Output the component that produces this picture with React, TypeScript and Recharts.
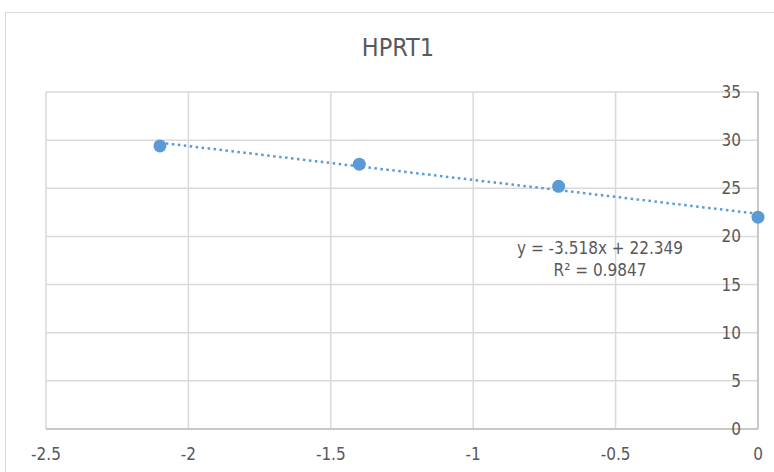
import React from "react";
import {
  ScatterChart,
  Scatter,
  XAxis,
  YAxis,
  CartesianGrid,
} from "recharts";

const pointX = [-2.1, -1.4, -0.7, 0];
const pointY = [29.4, 27.5, 25.2, 22.0];
const trendX = [-2.1, 0];
const trendY = [29.737, 22.349];
const xTicks = [-2.5, -2, -1.5, -1, -0.5, 0];
const yTicks = [0, 5, 10, 15, 20, 25, 30, 35];
const titleText = "HPRT1";
const equationText = "y = -3.518x + 22.349";
const r2Text = "R² = 0.9847";

const points = pointX.map((x, i) => ({ x, y: pointY[i] }));
const trend = trendX.map((x, i) => ({ x, y: trendY[i] }));

const FONT = "'Liberation Sans Narrow', 'DejaVu Sans Condensed', 'Noto Sans', sans-serif";
const TEXT = "#595959";

const YTick = (props: any) => {
  const { x, y, payload } = props;
  return (
    <text
      x={x - 17}
      y={y}
      textAnchor="end"
      dominantBaseline="central"
      fill={TEXT}
      fontSize={17}
      fontFamily={FONT}
    >
      {payload.value}
    </text>
  );
};

export default function App() {
  return (
    <div
      style={{
        position: "absolute",
        left: 0,
        top: 0,
        width: 774,
        height: 472,
        overflow: "hidden",
        background: "#fff",
        fontFamily: FONT,
      }}
    >
      <div
        style={{
          position: "absolute",
          left: 5,
          top: 12,
          width: 900,
          height: 600,
          border: "1.5px solid #d9d9d9",
        }}
      />
      <div
        style={{
          position: "absolute",
          left: 0,
          width: 796,
          top: 32,
          textAlign: "center",
          fontSize: 25,
          color: TEXT,
          lineHeight: "32px",
        }}
      >
        {titleText}
      </div>
      <div style={{ position: "absolute", left: 0, top: 0 }}>
        <ScatterChart
          width={774}
          height={472}
          margin={{ top: 92, right: 16, bottom: 0, left: 46 }}
        >
          <CartesianGrid stroke="#d9d9d9" strokeWidth={1.5} />
          <XAxis
            type="number"
            dataKey="x"
            domain={[-2.5, 0]}
            ticks={xTicks}
            height={43}
            axisLine={{ stroke: "#bfbfbf", strokeWidth: 1.5 }}
            tickLine={false}
            tickSize={0}
            tickMargin={19}
            tick={{ fill: TEXT, fontSize: 17, fontFamily: FONT }}
          />
          <YAxis
            type="number"
            dataKey="y"
            orientation="right"
            mirror
            width={1}
            domain={[0, 35]}
            ticks={yTicks}
            axisLine={{ stroke: "#bfbfbf", strokeWidth: 1.5 }}
            tickLine={false}
            tickSize={0}
            tickMargin={0}
            tick={<YTick />}
          />
          <Scatter
            data={trend}
            line={{
              stroke: "#5b9bd5",
              strokeWidth: 2.5,
              strokeDasharray: "2.5 3.5",
            }}
            shape={() => null}
            isAnimationActive={false}
          />
          <Scatter
            data={points}
            fill="#5b9bd5"
            shape={(p: any) => (
              <circle cx={p.cx} cy={p.cy} r={6.5} fill="#5b9bd5" />
            )}
            isAnimationActive={false}
          />
        </ScatterChart>
      </div>
      <div
        style={{
          position: "absolute",
          left: 450,
          width: 300,
          top: 237,
          textAlign: "center",
          fontSize: 17,
          color: TEXT,
          lineHeight: "22px",
        }}
      >
        <div>{equationText}</div>
        <div>{r2Text}</div>
      </div>
    </div>
  );
}
